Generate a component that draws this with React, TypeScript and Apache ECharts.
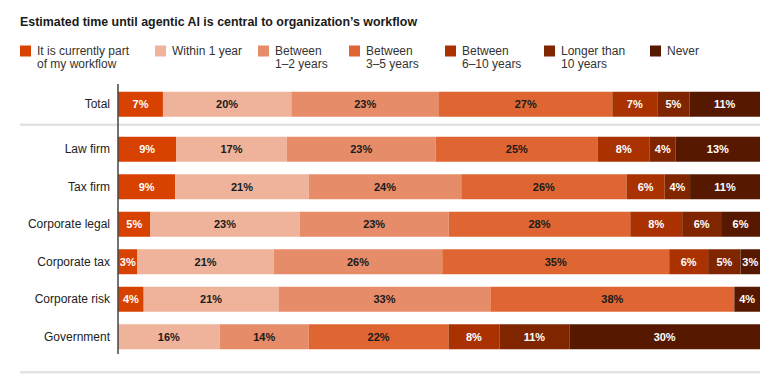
import React, { useEffect, useRef } from "react";
import * as echarts from "echarts";

const title = "Estimated time until agentic AI is central to organization’s workflow";
const totalCategory = ["Total"];
const segmentCategories = ["Law firm", "Tax firm", "Corporate legal", "Corporate tax", "Corporate risk", "Government"];
const seriesNames = [
  "It is currently part\nof my workflow",
  "Within 1 year",
  "Between\n1–2 years",
  "Between\n3–5 years",
  "Between\n6–10 years",
  "Longer than\n10 years",
  "Never",
];
const seriesColors = ["#D84200", "#EEB39A", "#E68C69", "#DF6633", "#A93200", "#7F2500", "#561900"];
const labelColors = ["#ffffff", "#1a1a1a", "#1a1a1a", "#1a1a1a", "#ffffff", "#ffffff", "#ffffff"];

// rows: Total, Law firm, Tax firm, Corporate legal, Corporate tax, Corporate risk, Government
const currentlyPart = [7, 9, 9, 5, 3, 4, 0];
const within1Year = [20, 17, 21, 23, 21, 21, 16];
const between1to2 = [23, 23, 24, 23, 26, 33, 14];
const between3to5 = [27, 25, 26, 28, 35, 38, 22];
const between6to10 = [7, 8, 6, 8, 6, 0, 8];
const longerThan10 = [5, 4, 4, 6, 5, 0, 11];
const never = [11, 13, 11, 6, 3, 4, 30];

const allSeries = [currentlyPart, within1Year, between1to2, between3to5, between6to10, longerThan10, never];

const legendX = [20, 155, 258, 349, 445, 544, 650];

export default function App() {
  const ref = useRef<HTMLDivElement>(null);
  useEffect(() => {
    if (!ref.current) return;
    const chart = echarts.init(ref.current, null, { renderer: "svg" });
    const rowCount = currentlyPart.length;
    const rowSums = Array.from({ length: rowCount }, (_, r) =>
      allSeries.reduce((s, arr) => s + arr[r], 0)
    );
    const font = "'Liberation Sans', Arial, sans-serif";

    const mkSeries = (gridIdx: number, rows: number[]) =>
      allSeries.map((arr, si) => ({
        type: "bar",
        name: seriesNames[si],
        stack: "s" + gridIdx,
        xAxisIndex: gridIdx,
        yAxisIndex: gridIdx,
        barWidth: 25,
        itemStyle: { color: seriesColors[si] },
        label: {
          show: true,
          position: "inside",
          color: labelColors[si],
          fontFamily: font,
          fontWeight: "bold",
          fontSize: 11,
          formatter: (p: any) => (p.data.raw > 0 ? p.data.raw + "%" : ""),
        },
        data: rows.map((r) => ({ value: (arr[r] / rowSums[r]) * 100, raw: arr[r] })),
      }));

    const graphic: any[] = [
      {
        type: "text",
        left: 20,
        top: 16,
        style: { text: title, fontFamily: font, fontWeight: "bold", fontSize: 12.4, fill: "#1a1a1a" },
      },
      { type: "rect", shape: { x: 20, y: 123.5, width: 740, height: 2.5 }, style: { fill: "#E3E3E3" }, z: 1 },
      { type: "rect", shape: { x: 20, y: 371, width: 740, height: 2.5 }, style: { fill: "#E3E3E3" }, z: 1 },
      { type: "line", shape: { x1: 118, y1: 84, x2: 118, y2: 354 }, style: { stroke: "#444", lineWidth: 1.5 }, z: 10 },
    ];
    seriesNames.forEach((n, i) => {
      graphic.push({
        type: "rect",
        shape: { x: legendX[i], y: 45.5, width: 11, height: 11 },
        style: { fill: seriesColors[i] },
      });
      graphic.push({
        type: "text",
        x: legendX[i] + 17,
        y: 44,
        style: { text: n, fontFamily: font, fontSize: 12, lineHeight: 13.5, fill: "#333", verticalAlign: "top" },
      });
    });

    chart.setOption({
      animation: false,
      grid: [
        { left: 118, right: 16, top: 85, height: 38.5 },
        { left: 118, right: 16, top: 130.5, height: 225 },
      ],
      xAxis: [0, 1].map((g) => ({
        type: "value",
        gridIndex: g,
        min: 0,
        max: 100,
        show: false,
      })),
      yAxis: [
        { gridIndex: 0, data: totalCategory },
        { gridIndex: 1, data: segmentCategories },
      ].map((y) => ({
        type: "category",
        gridIndex: y.gridIndex,
        data: y.data,
        inverse: true,
        axisLine: { show: false },
        axisTick: { show: false },
        axisLabel: { color: "#222", fontSize: 12, fontFamily: font, margin: 8 },
      })),
      series: [...mkSeries(0, [0]), ...mkSeries(1, [1, 2, 3, 4, 5, 6])],
      graphic,
    });
    return () => chart.dispose();
  }, []);
  return <div ref={ref} style={{ width: 776, height: 386, position: "absolute", left: 0, top: 0 }} />;
}
